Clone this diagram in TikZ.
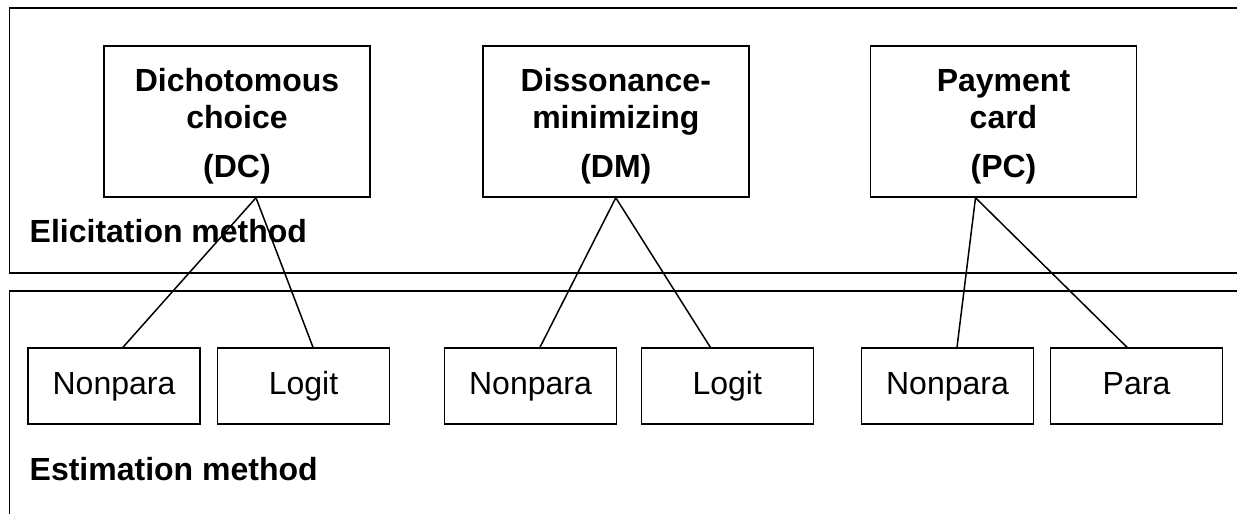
\documentclass[tikz,border=0pt]{standalone}
\usepackage{fontspec}
\setmainfont{Liberation Sans}
\begin{document}
\begin{tikzpicture}[x=1pt,y=-1pt,
  frame/.style={line width=1.6pt},
  methodbox/.style={draw,line width=1.5pt,minimum width=266pt,minimum height=151pt,inner sep=0pt},
  estbox/.style={draw,line width=1.5pt,minimum width=172pt,minimum height=76pt,inner sep=0pt,
    font=\fontsize{32}{36}\selectfont,text height=23pt,text depth=7pt},
  boxline/.style={anchor=base,inner sep=0pt,font=\fontsize{32}{36}\selectfont\bfseries},
  heading/.style={anchor=base west,inner sep=0pt,font=\fontsize{32}{36}\selectfont\bfseries},
  link/.style={line width=1.5pt}]
\useasboundingbox (0,0) rectangle (1237,514);

% the two frames, both running off the right edge
\draw[frame] (1237,8) -- (9.5,8) -- (9.5,273) -- (1237,273);
\draw[frame] (1237,291) -- (9.5,291) -- (9.5,514);

% elicitation methods
\node[methodbox] (dc) at (237,121.5) {};
\node[methodbox] (dm) at (615.8,121.5) {};
\node[methodbox] (pc) at (1003.5,121.5) {};

\node[boxline] (dc1) at (237,91.7) {Dichotomous};
\node[boxline] (dc2) at (237,128) {choice};
\node[boxline] (dc3) at (237,177) {(DC)};
\node[boxline] (dm1) at (615.8,91.7) {Dissonance-};
\node[boxline] (dm2) at (615.8,128) {minimizing};
\node[boxline] (dm3) at (615.8,177) {(DM)};
\node[boxline] (pc1) at (1003.5,91.7) {Payment};
\node[boxline] (pc2) at (1003.5,128) {card};
\node[boxline] (pc3) at (1003.5,177) {(PC)};

\node[heading] (elic) at (29.5,242.7) {Elicitation method};

% estimation methods
\node[estbox] (np1) at (114,386) {Nonpara};
\node[estbox] (lg1) at (303.5,386) {Logit};
\node[estbox] (np2) at (530.5,386) {Nonpara};
\node[estbox] (lg2) at (727.3,386) {Logit};
\node[estbox] (np3) at (947.5,386) {Nonpara};
\node[estbox] (pa3) at (1136.5,386) {Para};

\node[heading] (est) at (29.5,480.7) {Estimation method};

% connectors
\draw[link] ([xshift=19pt]dc.south) -- ([xshift=9pt]np1.north);
\draw[link] ([xshift=19pt]dc.south) -- ([xshift=9.5pt]lg1.north);
\draw[link] (dm.south) -- ([xshift=9.5pt]np2.north);
\draw[link] (dm.south) -- ([xshift=-17pt]lg2.north);
\draw[link] ([xshift=-28pt]pc.south) -- ([xshift=9.5pt]np3.north);
\draw[link] ([xshift=-28pt]pc.south) -- ([xshift=-9.5pt]pa3.north);
\end{tikzpicture}
\end{document}
